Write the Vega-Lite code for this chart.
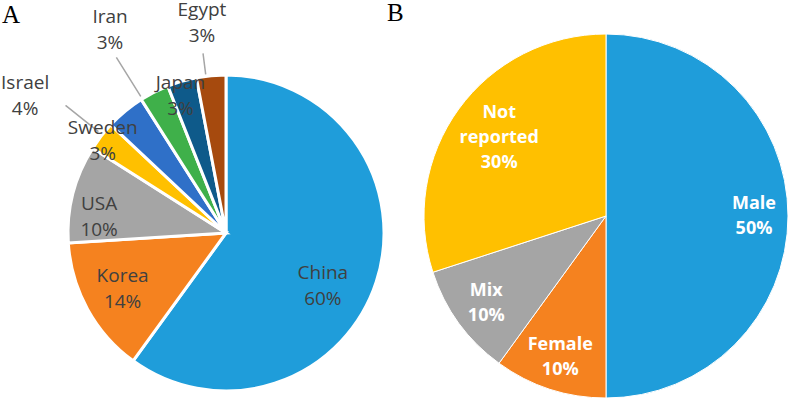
{
  "$schema": "https://vega.github.io/schema/vega-lite/v6.json",
  "padding": 0,
  "spacing": 0,
  "bounds": "flush",
  "background": "white",
  "config": {"view": {"stroke": null}},
  "datasets": {
    "countries": [
      {"country": "China", "share": 60, "rank": 1, "label": "China\n60%"},
      {"country": "Korea", "share": 14, "rank": 2, "label": "Korea\n14%"},
      {"country": "USA", "share": 10, "rank": 3, "label": "USA\n10%"},
      {"country": "Sweden", "share": 3, "rank": 4, "label": "Sweden\n3%"},
      {"country": "Israel", "share": 4, "rank": 5, "label": "Israel\n4%"},
      {"country": "Iran", "share": 3, "rank": 6, "label": "Iran\n3%"},
      {"country": "Japan", "share": 3, "rank": 7, "label": "Japan\n3%"},
      {"country": "Egypt", "share": 3, "rank": 8, "label": "Egypt\n3%"}
    ],
    "sex": [
      {"sex": "Male", "share": 50, "rank": 1, "label": "Male\n50%"},
      {"sex": "Female", "share": 10, "rank": 2, "label": "Female\n10%"},
      {"sex": "Mix", "share": 10, "rank": 3, "label": "Mix\n10%"},
      {"sex": "Not reported", "share": 30, "rank": 4, "label": "Not\nreported\n30%"}
    ]
  },
  "hconcat": [
    {
      "width": 452,
      "height": 320,
      "title": {"text": "A", "anchor": "start", "font": "Liberation Serif", "fontSize": 25, "fontWeight": "normal", "color": "black", "offset": -27, "dx": 2},
      "data": {"name": "countries"},
      "transform": [
        {"stack": "share", "groupby": [], "sort": [{"field": "rank", "order": "ascending"}], "as": ["s0", "s1"]},
        {"calculate": "(datum.s0 + datum.s1) / 2", "as": "mid"}
      ],
      "encoding": {
        "theta": {"field": "mid", "type": "quantitative", "scale": {"domain": [0, 100]}},
        "text": {"field": "label"}
      },
      "layer": [
        {
          "mark": {"type": "arc", "radius": 158, "stroke": "white", "strokeWidth": 3},
          "encoding": {
            "theta": {"field": "s0", "type": "quantitative", "scale": {"domain": [0, 100]}},
            "theta2": {"field": "s1"},
            "text": null,
            "color": {"field": "country", "type": "nominal", "legend": null,
              "scale": {"domain": ["China", "Korea", "USA", "Sweden", "Israel", "Iran", "Japan", "Egypt"],
                        "range": ["#1f9dda", "#f5821f", "#a5a5a5", "#ffc000", "#2f70c8", "#3fb04a", "#0e5a8a", "#a64a0e"]}}
          }
        },
        {
          "transform": [{"filter": "datum.country == 'Iran'"}],
          "mark": {"type": "arc", "radius": 161, "radius2": 207, "thetaOffset": -0.087, "theta2Offset": -0.087, "fillOpacity": 0, "stroke": "#a6a6a6", "strokeWidth": 1.5},
          "encoding": {"theta2": {"field": "mid"}, "text": null}
        },
        {
          "transform": [{"filter": "datum.country == 'Egypt'"}],
          "mark": {"type": "arc", "radius": 160, "radius2": 181, "thetaOffset": -0.033, "theta2Offset": -0.033, "fillOpacity": 0, "stroke": "#a6a6a6", "strokeWidth": 1.5},
          "encoding": {"theta2": {"field": "mid"}, "text": null}
        },
        {
          "transform": [{"filter": "datum.country == 'Israel'"}],
          "mark": {"type": "arc", "radius": 163, "radius2": 205, "thetaOffset": -0.208, "theta2Offset": -0.208, "fillOpacity": 0, "stroke": "#a6a6a6", "strokeWidth": 1.5},
          "encoding": {"theta2": {"field": "mid"}, "text": null}
        },
        {
          "transform": [{"filter": "datum.country == 'China'"}],
          "mark": {"type": "text", "radius": 105, "dx": -3, "dy": 8, "font": "Open Sans", "fontSize": 19, "lineBreak": "\n", "lineHeight": 26, "color": "#404040", "align": "center", "baseline": "middle"}
        },
        {
          "transform": [{"filter": "datum.country == 'Korea'"}],
          "mark": {"type": "text", "radius": 118, "dy": -14, "font": "Open Sans", "fontSize": 19, "lineBreak": "\n", "lineHeight": 26, "color": "#404040", "align": "center", "baseline": "middle"}
        },
        {
          "transform": [{"filter": "datum.country == 'USA'"}],
          "mark": {"type": "text", "radius": 131, "dy": 4, "font": "Open Sans", "fontSize": 19, "lineBreak": "\n", "lineHeight": 26, "color": "#404040", "align": "center", "baseline": "middle"}
        },
        {
          "transform": [{"filter": "datum.country == 'Sweden'"}],
          "mark": {"type": "text", "radius": 156, "dy": -9, "font": "Open Sans", "fontSize": 19, "lineBreak": "\n", "lineHeight": 26, "color": "#404040", "align": "center", "baseline": "middle"}
        },
        {
          "transform": [{"filter": "datum.country == 'Japan'"}],
          "mark": {"type": "text", "radius": 156, "dx": -2, "font": "Open Sans", "fontSize": 19, "lineBreak": "\n", "lineHeight": 26, "color": "#404040", "align": "center", "baseline": "middle"}
        },
        {
          "transform": [{"filter": "datum.country == 'Egypt'"}],
          "mark": {"type": "text", "radius": 224, "dx": -3, "font": "Open Sans", "fontSize": 19, "lineBreak": "\n", "lineHeight": 26, "color": "#404040", "align": "center", "baseline": "middle"}
        },
        {
          "transform": [{"filter": "datum.country == 'Iran'"}],
          "mark": {"type": "text", "radius": 240, "dx": -7, "dy": -2, "font": "Open Sans", "fontSize": 19, "lineBreak": "\n", "lineHeight": 26, "color": "#404040", "align": "center", "baseline": "middle"}
        },
        {
          "transform": [{"filter": "datum.country == 'Israel'"}],
          "mark": {"type": "text", "radius": 243, "dx": -46, "dy": 37, "font": "Open Sans", "fontSize": 19, "lineBreak": "\n", "lineHeight": 26, "color": "#404040", "align": "center", "baseline": "middle"}
        }
      ]
    },
    {
      "width": 308,
      "height": 286,
      "title": {"text": "B", "anchor": "start", "font": "Liberation Serif", "fontSize": 25, "fontWeight": "normal", "color": "black", "offset": 6, "dx": -35},
      "data": {"name": "sex"},
      "transform": [
        {"stack": "share", "groupby": [], "sort": [{"field": "rank", "order": "ascending"}], "as": ["s0", "s1"]},
        {"calculate": "(datum.s0 + datum.s1) / 2", "as": "mid"}
      ],
      "encoding": {
        "theta": {"field": "mid", "type": "quantitative", "scale": {"domain": [0, 100]}},
        "text": {"field": "label"}
      },
      "layer": [
        {
          "mark": {"type": "arc", "radius": 182, "stroke": "white", "strokeWidth": 1},
          "encoding": {
            "theta": {"field": "s0", "type": "quantitative", "scale": {"domain": [0, 100]}},
            "theta2": {"field": "s1"},
            "text": null,
            "color": {"field": "sex", "type": "nominal", "legend": null,
              "scale": {"domain": ["Male", "Female", "Mix", "Not reported"],
                        "range": ["#1e9bd7", "#f58220", "#a5a5a5", "#ffc000"]}}
          }
        },
        {
          "transform": [{"filter": "datum.sex != 'Not reported'"}],
          "mark": {"type": "text", "radius": 148, "dy": -12, "font": "Open Sans", "fontSize": 18, "fontWeight": "bold", "lineBreak": "\n", "lineHeight": 25, "color": "white", "align": "center", "baseline": "middle"}
        },
        {
          "transform": [{"filter": "datum.sex == 'Not reported'"}],
          "mark": {"type": "text", "radius": 132, "dy": -25, "font": "Open Sans", "fontSize": 18, "fontWeight": "bold", "lineBreak": "\n", "lineHeight": 25, "color": "white", "align": "center", "baseline": "middle"}
        }
      ]
    }
  ]
}
